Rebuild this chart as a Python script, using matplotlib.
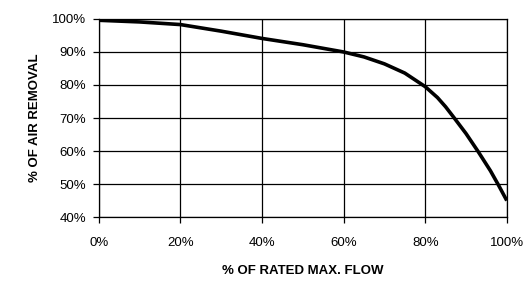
import matplotlib.pyplot as plt
from matplotlib.ticker import PercentFormatter

plt.rcParams['font.family'] = ['Liberation Sans', 'DejaVu Sans']

# % of rated max flow vs % of air removal
flow = [0, 10, 20, 30, 40, 50, 60, 65, 70, 75, 80, 83, 85, 87, 90, 93, 96, 98, 100]
removal = [99.6, 99.1, 98.3, 96.3, 94.1, 92.2, 90.0, 88.5, 86.4, 83.6, 79.5, 76.2, 73.4, 70.2, 65.3, 59.8, 54.0, 49.6, 45.0]

xticks = [0, 20, 40, 60, 80, 100]
yticks = [40, 50, 60, 70, 80, 90, 100]

fig = plt.figure(figsize=(5.29, 2.83), dpi=100)
ax = fig.add_axes([0.187, 0.233, 0.771, 0.70])

ax.plot(flow, removal, color='black', linewidth=2.6, solid_capstyle='butt',
        solid_joinstyle='round', zorder=3)

ax.set_xlim(0, 100)
ax.set_ylim(40, 100)
ax.set_xticks(xticks)
ax.set_yticks(yticks)
ax.xaxis.set_major_formatter(PercentFormatter(decimals=0))
ax.yaxis.set_major_formatter(PercentFormatter(decimals=0))
ax.grid(True, color='black', linewidth=0.9)
for s in ax.spines.values():
    s.set_linewidth(0.9)
ax.tick_params(direction='out', length=4, width=0.9, labelsize=9.5, colors='black', pad=5)
ax.tick_params(axis='x', pad=10)

ax.set_xlabel('% OF RATED MAX. FLOW', fontsize=9.5, fontweight='bold', labelpad=12)
ax.set_ylabel('% OF AIR REMOVAL', fontsize=9.5, fontweight='bold', labelpad=8)

fig.savefig('out.png', dpi=100)
